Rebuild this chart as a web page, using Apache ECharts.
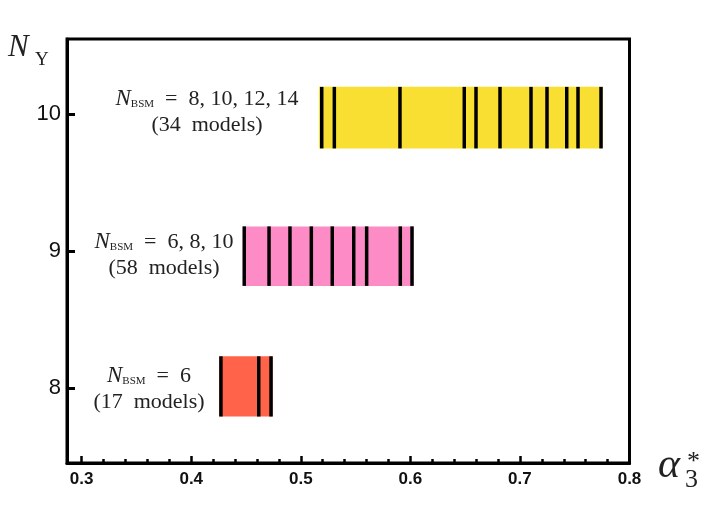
<!DOCTYPE html>
<html>
<head>
<meta charset="utf-8">
<script src="https://cdn.jsdelivr.net/npm/echarts@6/dist/echarts.min.js"></script>
<style>
html, body { margin: 0; padding: 0; background: #fff; }
#chart { width: 706px; height: 530px; }
</style>
</head>
<body>
<div id="chart"></div>
<script>
// N_Y of each band and its alpha_3* range
const nY = [8, 9, 10];
const bandLow = [7.79, 8.745, 9.75];
const bandHigh = [8.23, 9.18, 10.2];
const bandStart = [0.4256, 0.447, 0.5166];
const bandEnd = [0.4743, 0.6027, 0.7755];
const bandColors = ['#ff6349', '#fd8bc6', '#f8df32'];

// alpha_3* of the single models (black lines)
const modelsNY8 = [0.4271, 0.4616, 0.4728];
const modelsNY9 = [0.4484, 0.4710, 0.4901, 0.5096, 0.5287, 0.5483, 0.5601, 0.5908, 0.6015];
const modelsNY10 = [0.5191, 0.5306, 0.5905, 0.6492, 0.6599, 0.6818, 0.7101, 0.7247, 0.7427, 0.7530, 0.7740];

const nBSM = ['6', '6, 8, 10', '8, 10, 12, 14'];
const modelCounts = [17, 58, 34];

// ticks
const xMajorTicks = [0.3, 0.4, 0.5, 0.6, 0.7, 0.8];
const xMinorTicks = [0.30, 0.32, 0.34, 0.36, 0.38, 0.40, 0.42, 0.44, 0.46, 0.48, 0.50, 0.52, 0.54,
    0.56, 0.58, 0.60, 0.62, 0.64, 0.66, 0.68, 0.70, 0.72, 0.74, 0.76, 0.78, 0.80];
const yTicks = [8, 9, 10];

const chart = echarts.init(document.getElementById('chart'));

const bandData = nY.map((y, i) => [bandStart[i], bandEnd[i], bandLow[i], bandHigh[i]]);
const modelLists = [modelsNY8, modelsNY9, modelsNY10];
const lineData = [];
modelLists.forEach((list, i) => {
    list.forEach(a => lineData.push([a, bandLow[i], bandHigh[i]]));
});

const serif = '"Liberation Serif", "DejaVu Serif", serif';
const textColor = '#222';

function annotation(i, cx, cy) {
    return {
        type: 'text',
        x: cx,
        y: cy,
        style: {
            text: '{n|N}{s|BSM}{t|  =  ' + nBSM[i] + '}\n{t|(' + modelCounts[i] + '  models)}',
            align: 'center',
            textAlign: 'center',
            verticalAlign: 'middle',
            textVerticalAlign: 'middle',
            fill: textColor,
            rich: {
                n: { fontFamily: serif, fontStyle: 'italic', fontSize: 23, lineHeight: 26, verticalAlign: 'bottom', fill: textColor },
                s: { fontFamily: serif, fontSize: 11, lineHeight: 12, verticalAlign: 'bottom', fill: textColor },
                t: { fontFamily: serif, fontSize: 22, lineHeight: 26, verticalAlign: 'bottom', fill: textColor }
            }
        },
        z: 10
    };
}

const option = {
    animation: false,
    grid: {
        left: 67, right: 76.5, top: 39, bottom: 67,
        show: true, borderColor: '#000', borderWidth: 3
    },
    xAxis: [
        {
            type: 'value', min: 0.2866, max: 0.8,
            splitLine: { show: false },
            axisLine: { show: true, lineStyle: { color: '#000', width: 3 } },
            axisTick: { show: true, inside: true, length: 7, customValues: xMajorTicks,
                lineStyle: { color: '#000', width: 2.5 } },
            axisLabel: { customValues: xMajorTicks, margin: 8, color: '#111',
                fontFamily: '"Liberation Sans", Arial, sans-serif',
                fontWeight: 'bold', fontSize: 17, formatter: v => v.toFixed(1) }
        },
        {
            type: 'value', min: 0.2866, max: 0.8, position: 'bottom',
            splitLine: { show: false },
            axisLine: { show: false },
            axisTick: { show: true, inside: true, length: 4, customValues: xMinorTicks,
                lineStyle: { color: '#000', width: 2.5 } },
            axisLabel: { show: false }
        }
    ],
    yAxis: {
        type: 'value', min: 7.45, max: 10.55,
        splitLine: { show: false },
        axisLine: { show: true, lineStyle: { color: '#000', width: 3 } },
        axisTick: { show: true, inside: true, length: 8, customValues: yTicks,
            lineStyle: { color: '#000', width: 3 } },
        axisLabel: { customValues: yTicks, margin: 6, color: '#111',
            fontFamily: '"Liberation Sans", Arial, sans-serif', fontSize: 22 }
    },
    series: [
        {
            type: 'custom',
            data: bandData,
            encode: { x: [0, 1], y: [2, 3] },
            renderItem: function (params, api) {
                const p0 = api.coord([api.value(0), api.value(3)]);
                const p1 = api.coord([api.value(1), api.value(2)]);
                return {
                    type: 'rect',
                    shape: { x: p0[0], y: p0[1], width: p1[0] - p0[0], height: p1[1] - p0[1] },
                    style: { fill: bandColors[params.dataIndex] }
                };
            },
            z: 2
        },
        {
            type: 'custom',
            data: lineData,
            encode: { x: 0, y: [1, 2] },
            renderItem: function (params, api) {
                const p0 = api.coord([api.value(0), api.value(1)]);
                const p1 = api.coord([api.value(0), api.value(2)]);
                return {
                    type: 'line',
                    shape: { x1: p0[0], y1: p0[1], x2: p1[0], y2: p1[1] },
                    style: { stroke: '#000', lineWidth: 3.5 }
                };
            },
            z: 3
        }
    ],
    graphic: [
        annotation(0, 149, 387),
        annotation(1, 164, 253),
        annotation(2, 207, 110),
        // axis name N_Y
        { type: 'text', x: 8, y: 48, style: { text: 'N', fontFamily: serif, fontStyle: 'italic', fontSize: 31,
            fill: textColor, verticalAlign: 'middle', textVerticalAlign: 'middle' } },
        { type: 'text', x: 35, y: 60, style: { text: 'Y', fontFamily: serif, fontSize: 19,
            fill: textColor, verticalAlign: 'middle', textVerticalAlign: 'middle' } },
        // axis name alpha_3^*
        { type: 'text', x: 658, y: 466, style: { text: 'α', fontFamily: serif, fontStyle: 'italic', fontSize: 42,
            fill: textColor, verticalAlign: 'middle', textVerticalAlign: 'middle' } },
        { type: 'text', x: 685, y: 480, style: { text: '3', fontFamily: serif, fontSize: 26,
            fill: textColor, verticalAlign: 'middle', textVerticalAlign: 'middle' } },
        { type: 'text', x: 687, y: 462, style: { text: '*', fontFamily: serif, fontSize: 26,
            fill: textColor, verticalAlign: 'middle', textVerticalAlign: 'middle' } }
    ]
};

chart.setOption(option);
</script>
</body>
</html>
